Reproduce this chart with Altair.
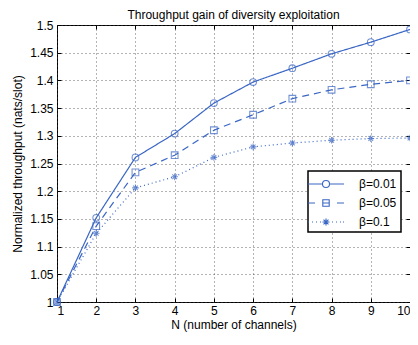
import altair as alt
import pandas as pd

N = list(range(1, 11))
beta_001 = [1.0, 1.152, 1.261, 1.304, 1.359, 1.397, 1.422, 1.448, 1.469, 1.492]
beta_005 = [1.0, 1.137, 1.234, 1.265, 1.310, 1.338, 1.367, 1.383, 1.393, 1.400]
beta_01 = [1.0, 1.124, 1.206, 1.226, 1.261, 1.280, 1.287, 1.292, 1.295, 1.296]
series = ["β=0.01", "β=0.05", "β=0.1"]
y_ticks = [1.0, 1.05, 1.1, 1.15, 1.2, 1.25, 1.3, 1.35, 1.4, 1.45, 1.5]

rows = []
for name, vals in zip(series, [beta_001, beta_005, beta_01]):
    for n, v in zip(N, vals):
        rows.append({"N": n, "T": v, "series": name})
df = pd.DataFrame(rows)

BLUE = "#3a66c4"
FONT = "Liberation Sans"

ASTER = "M-1,0H1M0,-1V1M-0.7,-0.7L0.7,0.7M-0.7,0.7L0.7,-0.7"
LEG_CIRCLE = ("M-1.625,0H0.185M1.065,0H2.875"
              "M1.065,0A0.44,0.44,0,1,1,0.185,0A0.44,0.44,0,1,1,1.065,0")
LEG_SQUARE = ("M-1.625,0H-0.75M0.225,0H1.025M2.0,0H2.875"
              "M0.225,-0.4H1.025V0.4H0.225Z")
LEG_STAR = ("M-1.625,0h0.125M-1.125,0h0.125M-0.625,0h0.125M-0.125,0h0.125"
            "M1.375,0h0.125M1.875,0h0.125M2.375,0h0.125M2.75,0h0.125"
            "M0.185,0H1.065M0.625,-0.44V0.44M0.315,-0.31L0.935,0.31M0.315,0.31L0.935,-0.31")

xscale = alt.Scale(domain=[1, 10], nice=False, zero=False)
yscale = alt.Scale(domain=[1.0, 1.5], nice=False, zero=False)

tick_axis = dict(labels=False, grid=False, domain=False, ticks=True, tickSize=4,
                 tickColor="black", tickWidth=1, offset=-4, title=None)

lines = alt.Chart(df).mark_line(color=BLUE, strokeWidth=1.2).encode(
    x=alt.X("N:Q", scale=xscale, axis=alt.Axis(
        values=N, grid=True, ticks=False, domain=False, labelPadding=3,
        title="N (number of channels)", titlePadding=3)),
    y=alt.Y("T:Q", scale=yscale, axis=alt.Axis(
        values=y_ticks, format="~g", grid=True, ticks=False, domain=False,
        labelPadding=4, title="Normalized throughput (nats/slot)", titlePadding=5)),
    strokeDash=alt.StrokeDash("series:N", sort=series, legend=None,
                              scale=alt.Scale(domain=series, range=[[1, 0], [7, 5], [1, 3]])),
    detail="series:N",
)

points = alt.Chart(df).mark_point(color=BLUE, filled=False, strokeWidth=1.1, size=45).encode(
    x=alt.X("N:Q", scale=xscale, axis=alt.Axis(values=N, orient="bottom", **tick_axis)),
    y=alt.Y("T:Q", scale=yscale, axis=alt.Axis(values=y_ticks, orient="left", **tick_axis)),
    shape=alt.Shape("series:N", legend=None,
                    scale=alt.Scale(domain=series, range=["circle", "square", ASTER])),
)

legend_layer = alt.Chart(df).mark_point(color=BLUE, filled=False, opacity=0, size=45).encode(
    x=alt.X("N:Q", scale=xscale, axis=alt.Axis(values=N, orient="top", **tick_axis)),
    y=alt.Y("T:Q", scale=yscale, axis=alt.Axis(values=y_ticks, orient="right", **tick_axis)),
    shape=alt.Shape("series:N", title=None,
                    scale=alt.Scale(domain=series, range=[LEG_CIRCLE, LEG_SQUARE, LEG_STAR]),
                    legend=alt.Legend(
                        orient="none", legendX=251, legendY=146,
                        symbolSize=256, symbolStrokeColor=BLUE, symbolStrokeWidth=1.1,
                        symbolFillColor="transparent", symbolOpacity=1,
                        labelFont=FONT, labelFontSize=12, labelColor="black",
                        labelOffset=29, rowPadding=4, padding=4,
                        strokeColor="black", fillColor="white")),
)

chart = alt.layer(lines, points, legend_layer).resolve_scale(
    shape="independent"
).resolve_axis(x="independent", y="independent").properties(
    width=353, height=277,
    title=alt.TitleParams("Throughput gain of diversity exploitation", fontSize=12,
                          fontWeight="normal", font=FONT, color="black", offset=-3),
    autosize=alt.AutoSizeParams(type="none"),
    padding={"left": 49, "top": 17, "right": 0, "bottom": 32},
).configure_view(stroke="black", strokeWidth=1).configure_axis(
    labelFont=FONT, labelFontSize=12, labelColor="black",
    titleFont=FONT, titleFontSize=12, titleFontWeight="normal", titleColor="black",
    gridColor="#444444", gridDash=[1, 3], gridWidth=1, gridOpacity=0.8,
).configure_legend(strokeWidth=1.5)

chart.save("out.html", embed_options={"renderer": "svg", "actions": False})
